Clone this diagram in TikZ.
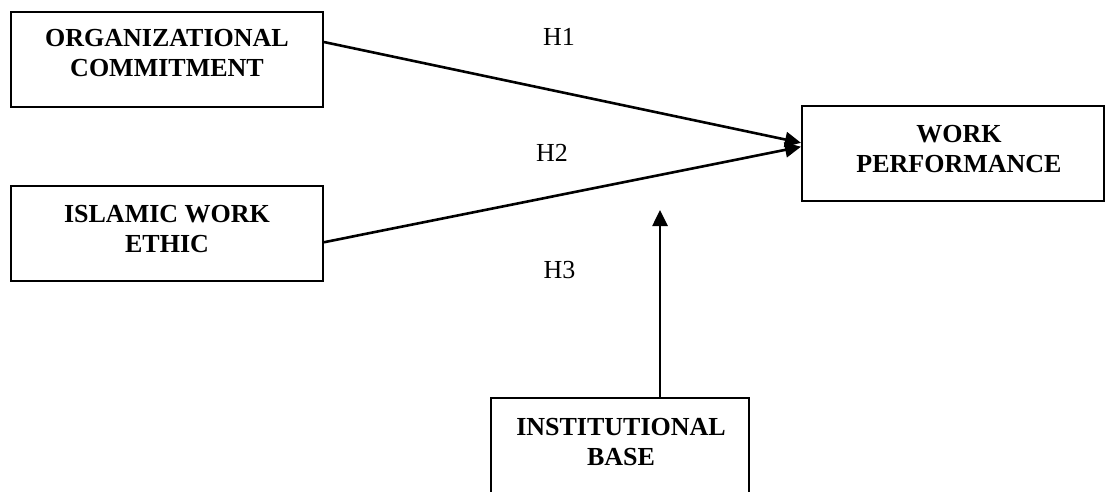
\documentclass[tikz,border=0pt]{standalone}
\usepackage{fontspec}
\setmainfont{Liberation Serif}
\usetikzlibrary{arrows.meta,calc}
\tikzset{
  box/.style={draw=black, line width=2pt, rectangle, inner sep=0pt, fill=none},
  lbl/.style={font=\fontsize{26}{30}\selectfont\bfseries, align=center, anchor=base, inner sep=0pt},
  hyp/.style={font=\fontsize{26}{30}\selectfont, anchor=base, inner sep=0pt},
  link/.style={line width=2.6pt, -{Triangle[length=16pt,width=15pt]}}
}
\begin{document}
\begin{tikzpicture}[x=1pt,y=-1pt]
\useasboundingbox (0,0) rectangle (1105,492);
\clip (0,0) rectangle (1105,492);
% boxes
\node[box, minimum width=312pt, minimum height=95pt] (oc) at (167,59.5) {};
\node[box, minimum width=312pt, minimum height=95pt] (iwe) at (167,233.5) {};
\node[box, minimum width=302pt, minimum height=95pt] (wp) at (953,153.5) {};
\node[box, minimum width=258pt, minimum height=100pt] (ib) at (620,448) {};
% texts (anchor = baseline of last line)
\node[lbl] (toc) at (167,77) {ORGANIZATIONAL\\COMMITMENT};
\node[lbl] (tiwe) at (167,252) {ISLAMIC WORK\\ETHIC};
\node[lbl] (twp) at (959,172) {WORK\\PERFORMANCE};
\node[lbl] (tib) at (621,465) {INSTITUTIONAL\\BASE};
% hypothesis labels
\node[hyp] (h1) at (559,46) {H1};
\node[hyp] (h2) at (552,161) {H2};
\node[hyp] (h3) at (559.5,278) {H3};
% connectors
\coordinate (mod) at (660,210);
\draw[link] ($(oc.north east)!0.32!(oc.south east)$) -- ($(wp.north west)!0.39!(wp.south west)$);
\draw[link] ($(iwe.north east)!0.59!(iwe.south east)$) -- ($(wp.north west)!0.43!(wp.south west)$);
\draw[link] (ib.north -| mod) -- (mod);
\end{tikzpicture}
\end{document}
